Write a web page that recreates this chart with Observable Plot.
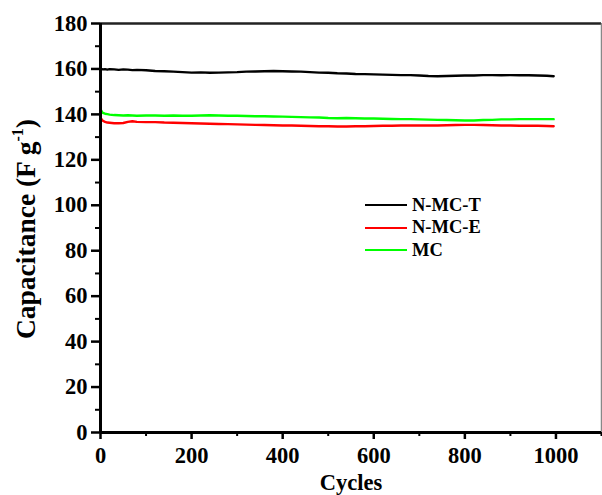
<!DOCTYPE html>
<html>
<head>
<meta charset="utf-8">
<script src="https://cdn.jsdelivr.net/npm/d3@7"></script>
<script src="https://cdn.jsdelivr.net/npm/@observablehq/plot@0.6"></script>
<style>
  html, body { margin: 0; padding: 0; background: #fff; }
  #wrap { position: relative; width: 602px; height: 495px; overflow: hidden; }
  .legend { position: absolute; left: 365px; top: 194px; font-family: "Liberation Serif", serif; font-weight: bold; font-size: 18.5px; color: #000; }
  .legend .row { display: flex; align-items: center; height: 22.5px; }
  .legend .sw { width: 42px; height: 2px; margin-right: 5px; }
</style>
</head>
<body>
<div id="wrap"></div>
<script>
const cycles = [1,5,10,15,20,30,40,50,60,70,80,
  100,120,140,160,180,200,220,240,260,280,300,320,340,360,380,
  400,420,440,460,480,500,520,540,560,580,600,620,640,660,680,
  700,720,740,760,780,800,820,840,860,880,900,920,940,960,980,995];
const nmcT = [160.0,159.8,159.9,159.7,159.9,159.8,159.6,159.8,159.7,159.5,159.6,
  159.4,159.1,159.0,158.8,158.6,158.4,158.5,158.3,158.4,158.5,158.6,158.8,158.9,159.0,159.1,
  159.0,158.9,158.8,158.6,158.4,158.3,158.1,158.0,157.8,157.7,157.6,157.5,157.4,157.3,157.3,
  157.1,156.9,156.8,156.9,157.0,157.1,157.1,157.3,157.3,157.2,157.3,157.2,157.2,157.1,157.0,156.8];
const nmcE = [138.2,137.2,136.7,136.4,136.3,136.1,136.1,136.2,136.7,137.0,136.7,
  136.6,136.6,136.4,136.3,136.2,136.1,136.0,135.9,135.8,135.7,135.6,135.5,135.4,135.3,135.2,
  135.1,135.1,135.0,134.9,134.8,134.8,134.7,134.7,134.8,134.8,134.9,135.0,135.0,135.1,135.1,
  135.1,135.1,135.1,135.2,135.3,135.4,135.4,135.3,135.2,135.1,135.1,135.0,135.0,135.0,134.9,134.8];
const mc = [141.9,140.7,140.3,140.1,139.9,139.7,139.6,139.5,139.6,139.5,139.4,
  139.5,139.5,139.4,139.5,139.4,139.4,139.5,139.6,139.5,139.4,139.4,139.3,139.2,139.2,139.1,
  139.0,138.9,138.8,138.7,138.6,138.4,138.3,138.4,138.3,138.2,138.2,138.1,138.0,137.9,137.9,
  137.8,137.7,137.6,137.5,137.4,137.3,137.3,137.5,137.6,137.8,137.8,137.9,137.9,137.9,137.9,137.9];
const seriesNames = ["N-MC-T", "N-MC-E", "MC"];
const seriesColors = ["#000000", "#ff0000", "#00ff00"];
const xMajor = [0,200,400,600,800,1000];
const xMinor = [100,300,500,700,900,1100];
const yMajor = [0,20,40,60,80,100,120,140,160,180];
const yMinor = [10,30,50,70,90,110,130,150,170];

const data = [];
[nmcT, nmcE, mc].forEach((vals, i) => {
  vals.forEach((v, j) => data.push({series: seriesNames[i], cycle: cycles[j], cap: v}));
});

const font = "Liberation Serif, serif";
const chart = Plot.plot({
  width: 602,
  height: 495,
  marginLeft: 100,
  marginRight: 1,
  marginTop: 23,
  marginBottom: 63,
  style: {fontFamily: font, fontWeight: "bold", fontSize: "22.5px", color: "#000", background: "#fff", overflow: "visible"},
  x: {domain: [0, 1100]},
  y: {domain: [0, 180]},
  color: {domain: seriesNames, range: seriesColors},
  marks: [
    Plot.axisX({ticks: xMinor, tickSize: 4, strokeWidth: 2, text: null, label: null}),
    Plot.axisX({ticks: xMajor, tickSize: 7, tickPadding: 8, strokeWidth: 2.5, fontSize: 22.5, fontWeight: "bold",
      tickFormat: d3.format("d"),
      label: "Cycles", labelAnchor: "center", labelArrow: "none", labelOffset: 57}),
    Plot.axisY({ticks: yMinor, tickSize: 5, strokeWidth: 2, text: null, label: null}),
    Plot.axisY({ticks: yMajor, tickSize: 9, tickPadding: 4, strokeWidth: 2.5, fontSize: 22.5, fontWeight: "bold", label: null}),
    Plot.axisY({anchor: "right", ticks: yMajor.concat(yMinor), tickSize: 0, text: null, label: null}),
    Plot.line(data, {x: "cycle", y: "cap", z: "series", stroke: "series", strokeWidth: 2.4}),
    Plot.ruleY([180], {stroke: "#222", strokeWidth: 2.3}),
    Plot.ruleX([1100], {stroke: "#888", strokeWidth: 1.5}),
    Plot.ruleY([0], {stroke: "#000", strokeWidth: 3}),
    Plot.ruleX([0], {stroke: "#000", strokeWidth: 3})
  ]
});

const wrap = document.getElementById("wrap");
wrap.appendChild(chart);

// y-axis title with superscript
const svg = d3.select(chart);
const yl = svg.append("text")
  .attr("transform", "translate(35,229) rotate(-90)")
  .attr("text-anchor", "middle")
  .attr("font-family", font)
  .attr("font-weight", "bold")
  .attr("font-size", 27.5)
  .attr("fill", "#000");
yl.append("tspan").text("Capacitance (F g");
yl.append("tspan").attr("font-size", 16).attr("dy", -12).text("-1");
yl.append("tspan").attr("dy", 12).text(")");

// legend
const leg = document.createElement("div");
leg.className = "legend";
seriesNames.forEach((n, i) => {
  const row = document.createElement("div");
  row.className = "row";
  const sw = document.createElement("span");
  sw.className = "sw";
  sw.style.background = seriesColors[i];
  const tx = document.createElement("span");
  tx.textContent = n;
  row.appendChild(sw);
  row.appendChild(tx);
  leg.appendChild(row);
});
wrap.appendChild(leg);
</script>
</body>
</html>
